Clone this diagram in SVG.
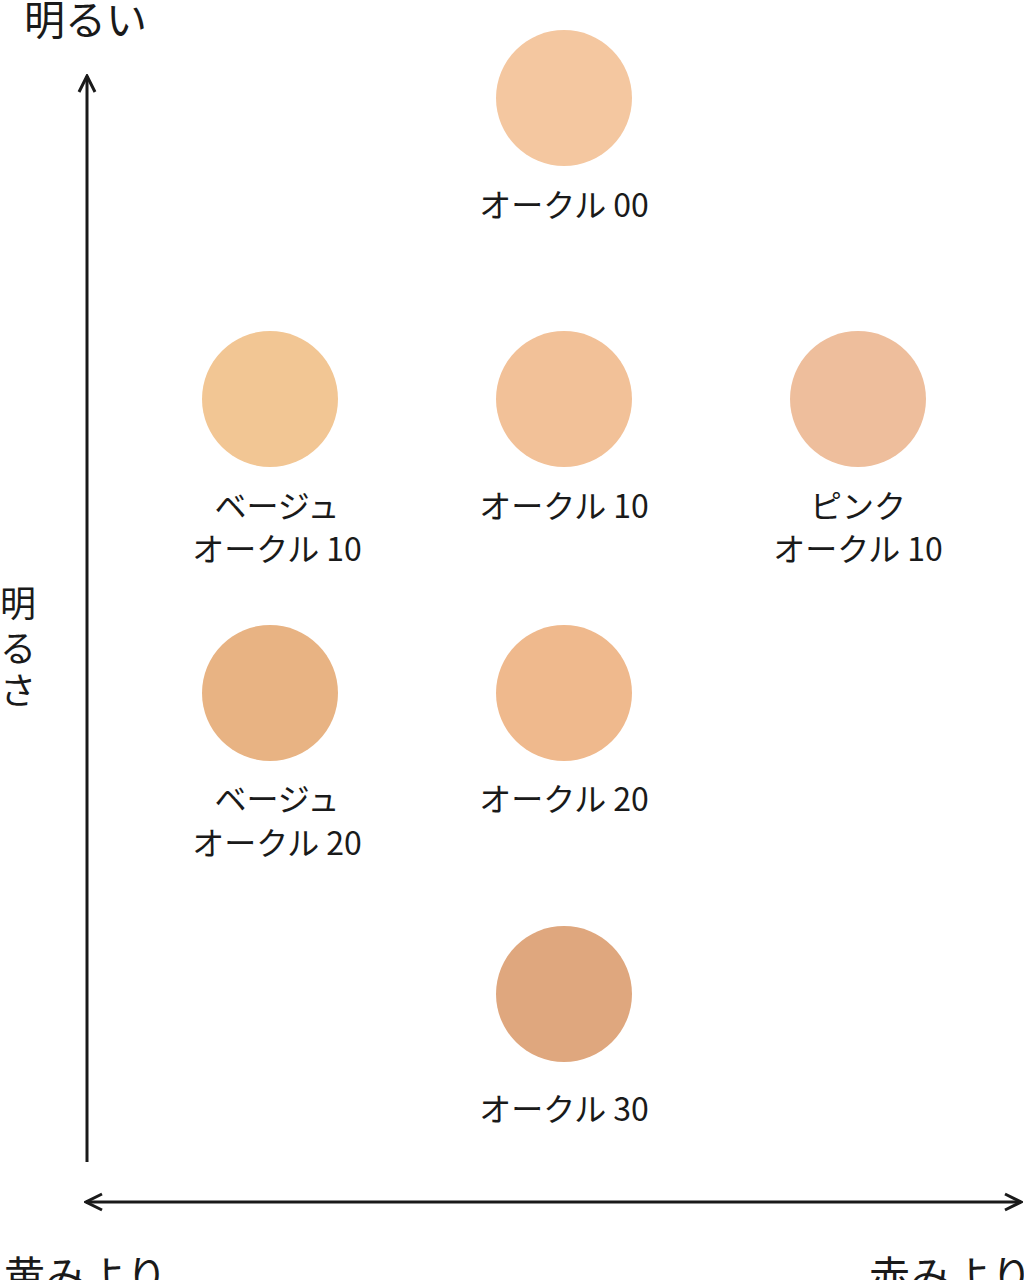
<svg xmlns="http://www.w3.org/2000/svg" width="1024" height="1280" viewBox="0 0 1024 1280">
<style>
text{font-family:"Noto Sans CJK JP","Noto Sans",sans-serif;fill:#1a1a1a}
.lbl{font-size:32px;text-anchor:middle}
.ax{font-size:41px}
.axv{font-size:36px}
.axl{stroke:#1a1a1a;stroke-width:3;fill:none}
</style>
<defs>
<marker id="arr" viewBox="0 0 20 20" refX="18" refY="10" markerWidth="20" markerHeight="20" markerUnits="userSpaceOnUse" orient="auto-start-reverse">
<path d="M2,2 L18,10 L2,18" fill="none" stroke="#1a1a1a" stroke-width="3"/>
</marker>
</defs>
<rect width="1024" height="1280" fill="#fff"/>
<g id="axes">
<line class="axl" x1="87" y1="1162" x2="87" y2="76" marker-end="url(#arr)"/>
<line class="axl" x1="86" y1="1202" x2="1021" y2="1202" marker-start="url(#arr)" marker-end="url(#arr)"/>
</g>
<g id="axis-labels">
<text class="ax" x="24" y="35">明るい</text>
<text class="axv" x="0" y="617">明</text>
<text class="axv" x="0" y="662">る</text>
<text class="axv" x="0" y="704">さ</text>
<text class="ax" x="4" y="1291">黄みより</text>
<text class="ax" x="869" y="1291">赤みより</text>
</g>
<g id="ochre00"><circle cx="564" cy="98" r="68" fill="#F4C7A0"/><text class="lbl" x="564" y="217">オークル 00</text></g>
<g id="beige10"><circle cx="270" cy="399" r="68" fill="#F2C694"/><text class="lbl" x="277" y="518">ベージュ</text><text class="lbl" x="277" y="561">オークル 10</text></g>
<g id="ochre10"><circle cx="564" cy="399" r="68" fill="#F2C198"/><text class="lbl" x="564" y="518">オークル 10</text></g>
<g id="pink10"><circle cx="858" cy="399" r="68" fill="#EEBE9C"/><text class="lbl" x="858" y="518">ピンク</text><text class="lbl" x="858" y="561">オークル 10</text></g>
<g id="beige20"><circle cx="270" cy="693" r="68" fill="#E8B383"/><text class="lbl" x="277" y="811">ベージュ</text><text class="lbl" x="277" y="855">オークル 20</text></g>
<g id="ochre20"><circle cx="564" cy="693" r="68" fill="#EFB98D"/><text class="lbl" x="564" y="811">オークル 20</text></g>
<g id="ochre30"><circle cx="564" cy="994" r="68" fill="#DFA77E"/><text class="lbl" x="564" y="1121">オークル 30</text></g>
</svg>
